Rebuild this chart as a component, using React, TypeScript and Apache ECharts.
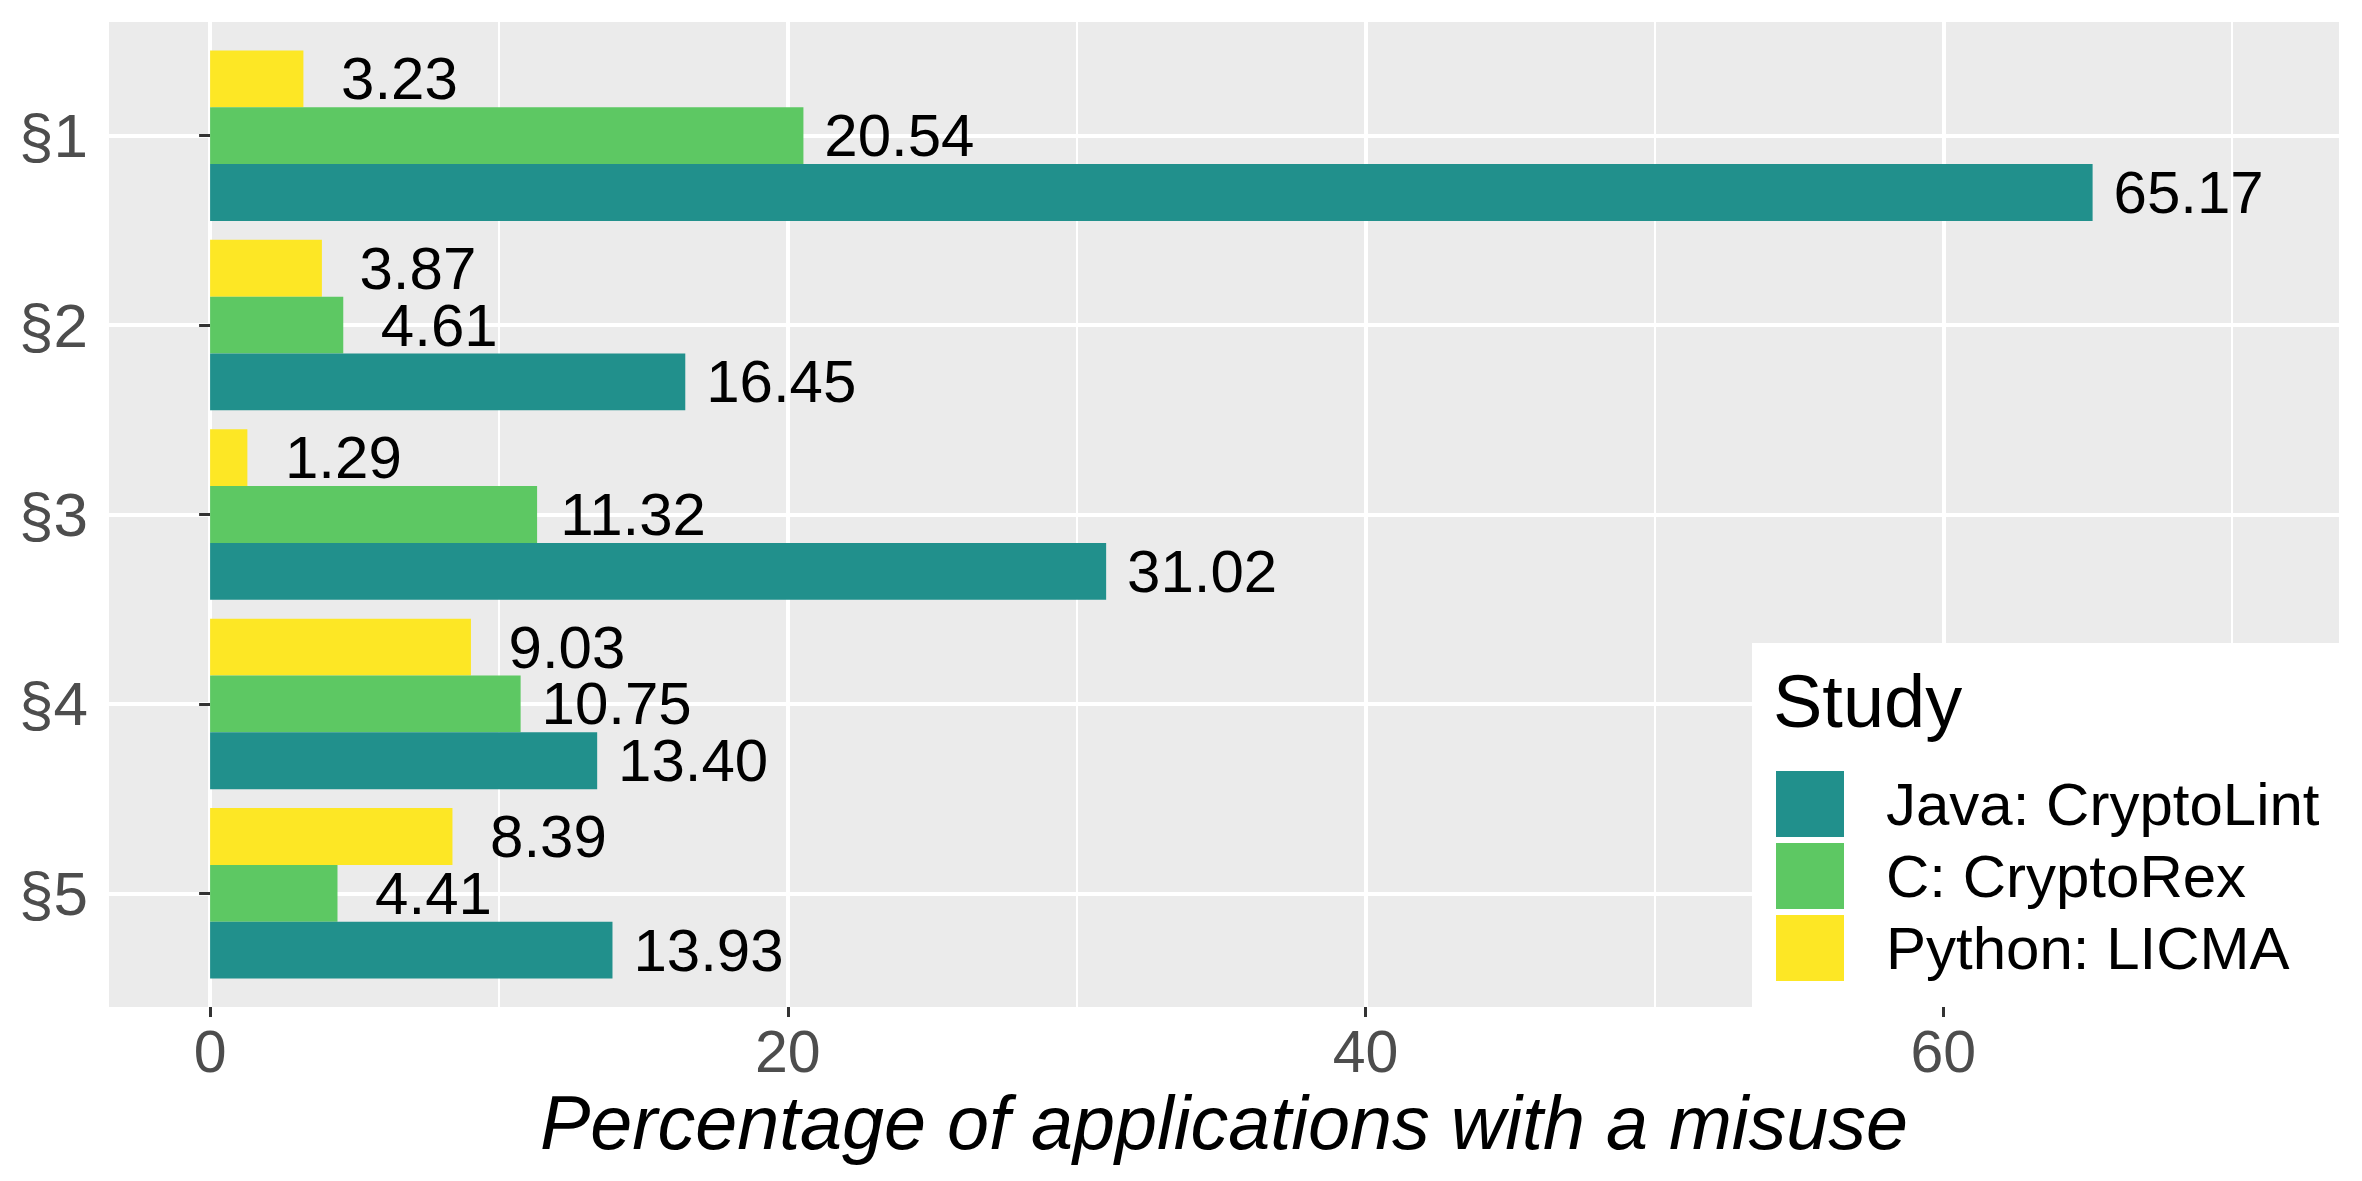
import React, { useEffect, useRef } from "react";
import * as echarts from "echarts";

const categories = ["§1", "§2", "§3", "§4", "§5"];
const javaValues = [65.17, 16.45, 31.02, 13.4, 13.93];
const cValues = [20.54, 4.61, 11.32, 10.75, 4.41];
const pythonValues = [3.23, 3.87, 1.29, 9.03, 8.39];
const seriesNames = ["Java: CryptoLint", "C: CryptoRex", "Python: LICMA"];
const seriesColors = ["#21908C", "#5DC863", "#FDE725"];
const xMin = -3.5;
const xMax = 73.7;
const tickMin = 0;
const tickMax = 60;
const tickStep = 20;

const W = 2362;
const H = 1181;
const FONT = '"Liberation Sans", Arial, Helvetica, sans-serif';

export default function App() {
  const ref = useRef<HTMLDivElement>(null);
  useEffect(() => {
    if (!ref.current) return;
    const chart = echarts.init(ref.current, null, { renderer: "svg" });
    const pL = 109, pR = 2339, pT = 22, pB = 1007;
    const ppu = (pR - pL) / (xMax - xMin);
    const tL = pL + (tickMin - xMin) * ppu;
    const tR = pL + (tickMax - xMin) * ppu;
    const step = (pB - pT) / (categories.length - 1 + 1.2);
    const cT = pT + 0.6 * step;
    const cB = pB - 0.6 * step;

    const makeSeries = (name: string, data: number[], color: string) => ({
      name,
      type: "bar",
      xAxisIndex: 2,
      yAxisIndex: 1,
      data,
      clip: false,
      barCategoryGap: "10%",
      barGap: "0%",
      itemStyle: { color },
      label: {
        show: true,
        position: ["100%", "50%"],
        offset: [96, 0],
        align: "center",
        verticalAlign: "middle",
        fontSize: 60,
        fontFamily: FONT,
        color: "#000",
        formatter: (p: any) => Number(p.value).toFixed(2),
      },
    });

    chart.setOption({
      animation: false,
      backgroundColor: "#fff",
      textStyle: { fontFamily: FONT },
      title: {
        text: "Study",
        left: 1773,
        top: 664,
        padding: 0,
        textStyle: { fontSize: 74, fontWeight: "normal", color: "#000", fontFamily: FONT },
      },
      legend: {
        data: seriesNames,
        orient: "vertical",
        left: 1752,
        top: 643,
        padding: [128, 40, 26, 24],
        backgroundColor: "#fff",
        itemWidth: 68,
        itemHeight: 66,
        itemGap: 6,
        icon: "rect",
        selectedMode: false,
        textStyle: { fontSize: 60, color: "#000", fontFamily: FONT, padding: [0, 0, 0, 37] },
      },
      grid: [
        { left: pL, right: W - pR, top: pT, bottom: H - pB, show: true, backgroundColor: "#EBEBEB", borderWidth: 0 },
        { left: pL, right: W - pR, top: cT, bottom: H - cB },
        { left: tL, right: W - tR, top: pT, bottom: H - pB },
      ],
      xAxis: [
        {
          gridIndex: 0,
          type: "value",
          min: xMin,
          max: xMax,
          splitNumber: 4,
          minInterval: 20,
          maxInterval: 20,
          axisLine: { show: false },
          axisTick: { show: false },
          axisLabel: { show: false },
          splitLine: { show: true, showMinLine: false, showMaxLine: false, lineStyle: { color: "#fff", width: 4 } },
          name: "Percentage of applications with a misuse",
          nameLocation: "middle",
          nameGap: 78,
          nameTextStyle: { fontSize: 75.5, fontStyle: "italic", color: "#000", fontFamily: FONT },
        },
        {
          gridIndex: 0,
          type: "value",
          min: xMin,
          max: xMax,
          splitNumber: 8,
          minInterval: 10,
          maxInterval: 10,
          axisLine: { show: false },
          axisTick: { show: false },
          axisLabel: { show: false },
          splitLine: { show: true, showMinLine: false, showMaxLine: false, lineStyle: { color: "#fff", width: 2 } },
        },
        { gridIndex: 1, type: "value", min: xMin, max: xMax, show: false },
        {
          gridIndex: 2,
          type: "value",
          min: tickMin,
          max: tickMax,
          interval: tickStep,
          axisLine: { show: false },
          axisTick: { show: true, length: 10, lineStyle: { color: "#333", width: 3 } },
          axisLabel: { show: true, fontSize: 59, color: "#4D4D4D", margin: 15, fontFamily: FONT },
          splitLine: { show: false },
        },
      ],
      yAxis: [
        { gridIndex: 0, type: "value", show: false },
        {
          gridIndex: 1,
          type: "category",
          data: categories,
          inverse: true,
          boundaryGap: false,
          axisLine: { show: false },
          axisTick: { show: true, interval: 0, length: 11, lineStyle: { color: "#333", width: 3 } },
          axisLabel: { interval: 0, fontSize: 62, color: "#4D4D4D", margin: 21, fontFamily: FONT },
          splitLine: { show: true, interval: 0, lineStyle: { color: "#fff", width: 4 } },
        },
        { gridIndex: 2, type: "value", show: false },
      ],
      series: [
        makeSeries(seriesNames[2], pythonValues, seriesColors[2]),
        makeSeries(seriesNames[1], cValues, seriesColors[1]),
        makeSeries(seriesNames[0], javaValues, seriesColors[0]),
      ],
    });
    return () => chart.dispose();
  }, []);
  return <div ref={ref} style={{ position: "absolute", left: 0, top: 0, width: W, height: H }} />;
}
